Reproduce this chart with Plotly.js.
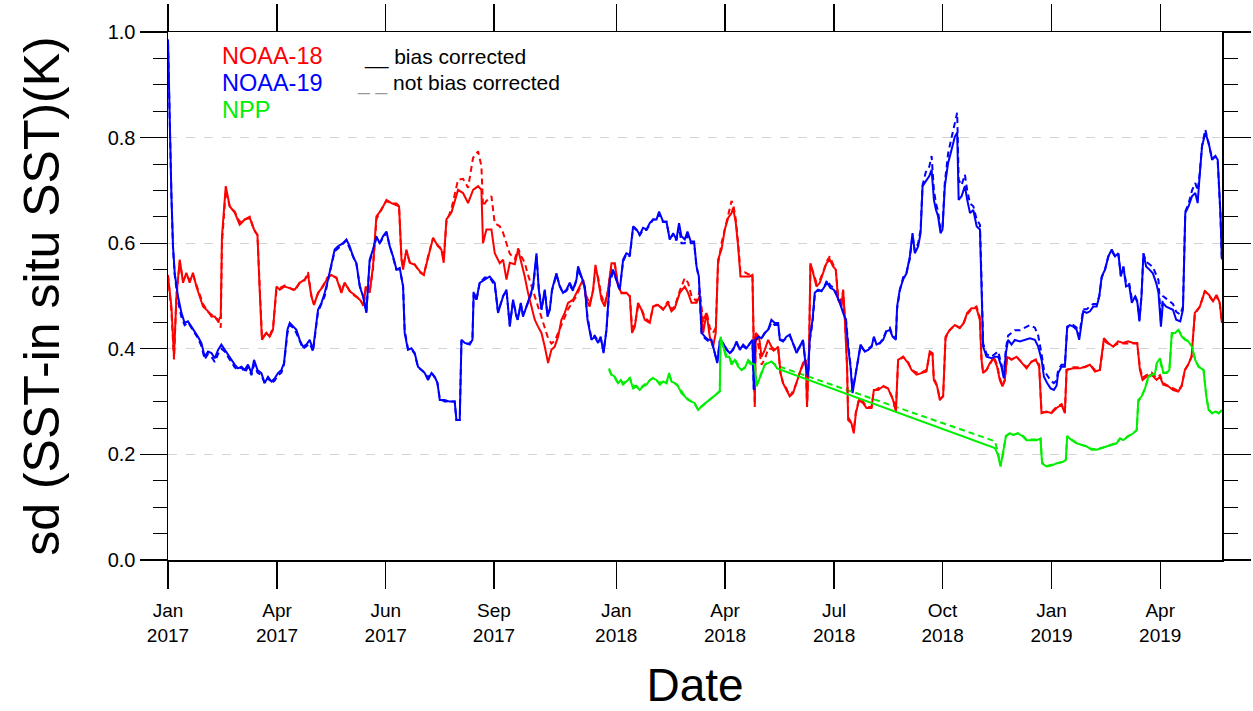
<!DOCTYPE html>
<html>
<head>
<meta charset="utf-8">
<script src="https://cdn.plot.ly/plotly-3.0.1.min.js"></script>
<style>
  html, body { margin: 0; padding: 0; background: #ffffff; }
  #chart { width: 1253px; height: 711px; }
</style>
</head>
<body>
<div id="chart"></div>
<script>
// x positions: days counted from the start of the record (Jan 2017)
const tickDays = [0, 89.1, 177.9, 266.4, 366.3, 455.2, 544.3, 633.0, 722.0, 810.8];
const tickLabels = ["Jan<br>2017", "Apr<br>2017", "Jun<br>2017", "Sep<br>2017", "Jan<br>2018",
                    "Apr<br>2018", "Jul<br>2018", "Oct<br>2018", "Jan<br>2019", "Apr<br>2019"];

// NOAA-18
const days18 = [0,2.8,4.9,6.9,9.6,12.3,15.0,17.7,20.4,23.2,25.9,28.6,32.7,35.5,38.2,40.9,43.1,44.1,47.2,50.4,54.5,58.6,62.7,66.8,70.3,73.1,74.9,76.8,80.4,83.1,85.8,88.6,91.3,95.4,99.5,103.6,107.6,111.7,114.4,117.2,119.3,122.6,126.7,130.3,133.5,137.6,141.7,144.4,148.5,152.6,156.7,159.9,161.6,164.8,167.5,170.3,174.4,178.5,182.6,186.7,188.8,190.8,192.1,194.8,197.5,201.6,205.7,209.0,212.5,216.6,220.7,223.4,225.3,227.5,231.6,234.3,237.0,241.1,245.2,249.3,253.4,256.1,257.4,260.2,264.3,267.0,271.1,273.8,276.6,279.3,283.4,286.1,288.8,291.5,294.2,297.0,299.7,302.4,305.2,307.9,310.6,313.3,316.0,318.8,321.5,324.2,326.9,331.0,333.8,336.5,339.2,341.9,344.6,347.4,349.3,351.5,354.2,356.9,359.6,362.4,365.1,367.8,370.6,374.6,377.4,379.2,381.5,384.1,386.9,389.6,393.7,396.4,400.5,404.6,408.6,411.4,414.1,418.2,422.3,425.0,427.8,431.9,434.6,437.3,440.1,442.7,445.4,447.6,449.5,452.3,455.0,457.7,460.5,461.8,464.0,465.9,467.8,471.3,475.4,477.6,478.7,479.5,480.3,483.0,485.0,487.7,490.4,493.1,495.8,498.6,500.5,502.6,505.4,508.1,510.8,513.6,516.3,518.9,521.2,522.2,523.9,525.0,527.2,529.9,532.6,535.3,538.1,540.8,543.5,545.7,547.6,550.4,551.7,553.1,554.9,555.8,558.5,560.4,562.1,564.7,568.0,570.8,574.9,576.8,580.3,584.4,588.4,592.5,594.8,596.6,600.7,604.8,607.6,611.7,615.8,619.8,622.5,624.7,625.8,628.5,630.7,633.4,635.4,638.8,643.0,647.0,650.3,653.0,656.6,660.7,663.4,664.8,666.1,668.9,671.6,674.8,677.5,679.7,681.9,683.8,685.7,689.3,693.4,697.5,701.6,705.6,709.2,711.9,713.8,717.9,722.0,726.1,730.2,732.9,734.3,739.7,745.2,749.3,753.4,757.5,761.5,764.8,768.3,772.4,776.4,780.5,784.6,788.7,792.0,794.2,796.4,799.6,803.7,807.8,810.6,813.3,817.4,821.4,825.5,828.3,831.0,833.7,836.4,839.1,843.2,847.3,850.8,854.0,856.8,859.5,861.2];
const sd18 = [.537,.48,.385,.50,.569,.525,.544,.525,.544,.518,.499,.48,.471,.461,.461,.452,.461,.613,.708,.67,.658,.635,.645,.648,.626,.616,.512,.417,.43,.423,.436,.518,.512,.518,.515,.512,.525,.531,.54,.499,.483,.506,.518,.534,.54,.534,.506,.525,.509,.502,.493,.483,.518,.506,.556,.651,.663,.682,.676,.673,.67,.569,.55,.588,.563,.559,.547,.54,.575,.61,.594,.588,.563,.645,.658,.682,.701,.695,.676,.701,.708,.701,.60,.626,.626,.581,.562,.569,.531,.563,.56,.588,.563,.537,.506,.48,.455,.442,.43,.404,.373,.398,.404,.423,.455,.468,.487,.493,.506,.518,.531,.493,.48,.512,.559,.531,.493,.48,.512,.562,.562,.518,.506,.506,.499,.43,.442,.487,.474,.455,.449,.48,.483,.474,.487,.471,.477,.506,.518,.506,.487,.487,.50,.43,.468,.423,.404,.43,.569,.588,.626,.648,.657,.667,.638,.594,.537,.537,.537,.54,.417,.29,.43,.423,.385,.398,.417,.404,.398,.404,.354,.335,.322,.31,.316,.335,.354,.373,.379,.29,.404,.562,.543,.518,.525,.543,.562,.569,.556,.55,.493,.48,.512,.455,.366,.265,.259,.24,.278,.303,.297,.288,.288,.322,.322,.329,.325,.303,.281,.379,.385,.373,.36,.351,.354,.357,.395,.392,.341,.329,.303,.31,.423,.436,.445,.439,.449,.468,.477,.477,.455,.379,.354,.36,.373,.382,.366,.341,.329,.341,.385,.379,.385,.373,.363,.376,.379,.366,.278,.281,.278,.288,.294,.278,.36,.363,.363,.366,.37,.357,.36,.42,.411,.404,.414,.411,.414,.411,.411,.36,.341,.347,.351,.341,.347,.332,.329,.322,.319,.329,.36,.37,.385,.468,.48,.509,.502,.49,.502,.487,.449];
const sd18nb = [.54,.47,.38,.50,.565,.53,.54,.53,.54,.52,.50,.485,.47,.465,.46,.455,.44,.60,.70,.67,.66,.64,.645,.65,.625,.615,.52,.42,.43,.425,.44,.51,.515,.52,.515,.51,.525,.53,.545,.50,.485,.505,.52,.535,.54,.535,.51,.525,.51,.50,.495,.48,.515,.51,.55,.645,.665,.68,.675,.675,.67,.57,.555,.585,.565,.56,.545,.54,.575,.61,.595,.59,.57,.64,.665,.69,.72,.722,.705,.762,.774,.746,.67,.68,.689,.638,.632,.62,.60,.58,.57,.59,.575,.563,.54,.52,.50,.48,.46,.44,.42,.41,.415,.43,.445,.46,.475,.49,.50,.515,.53,.50,.485,.51,.55,.535,.50,.485,.51,.555,.56,.52,.505,.505,.50,.44,.445,.48,.475,.46,.45,.48,.485,.475,.49,.475,.48,.51,.534,.525,.50,.49,.51,.45,.47,.44,.43,.44,.56,.60,.625,.65,.68,.675,.645,.60,.545,.545,.54,.54,.42,.295,.43,.40,.37,.38,.40,.40,.395,.40,.355,.335,.325,.31,.32,.335,.355,.37,.375,.29,.40,.56,.545,.525,.53,.545,.565,.575,.56,.55,.50,.49,.51,.46,.37,.27,.26,.245,.28,.305,.30,.29,.29,.32,.325,.33,.325,.305,.285,.375,.385,.375,.36,.355,.355,.36,.39,.39,.345,.33,.305,.31,.42,.435,.445,.44,.45,.465,.475,.48,.46,.38,.355,.36,.37,.385,.37,.345,.33,.34,.385,.38,.385,.375,.365,.375,.38,.37,.28,.28,.28,.29,.295,.28,.36,.365,.365,.365,.37,.36,.36,.415,.41,.405,.41,.41,.41,.41,.41,.365,.345,.35,.355,.345,.35,.335,.33,.325,.32,.33,.36,.37,.385,.465,.48,.51,.50,.49,.50,.485,.45];

// NOAA-19
const days19 = [0,1.4,2.8,4.1,5.5,8.2,11.0,13.6,16.3,19.1,21.8,24.5,27.3,30.0,32.7,35.5,38.2,40.9,43.6,46.3,49.0,51.8,54.5,57.2,60.0,62.7,65.4,68.2,70.3,73.1,76.3,79.0,81.7,84.5,87.2,89.9,92.7,94.8,97.6,99.5,102.2,104.9,107.6,110.3,113.1,115.8,118.5,120.5,122.6,125.4,128.1,130.8,133.5,136.2,138.9,143.0,145.8,148.5,151.2,154.0,156.7,159.4,162.1,164.8,167.5,170.3,173.0,175.7,178.5,181.2,183.9,186.7,189.4,192.1,193.4,196.1,198.9,201.6,204.3,207.1,209.8,212.5,215.3,218.0,220.2,222.1,226.1,230.2,234.3,235.7,238.4,239.8,242.5,246.6,248.8,249.8,252.0,254.7,258.8,262.9,267.0,269.7,273.8,276.6,279.3,282.0,284.7,285.8,288.3,290.1,292.9,295.6,298.3,301.1,303.0,305.2,307.9,310.1,312.0,313.8,317.4,320.1,322.8,325.6,328.3,331.0,333.8,335.1,337.9,340.6,342.8,346.0,348.7,351.5,353.6,355.9,358.3,361.0,363.7,366.5,369.2,371.9,374.6,377.4,380.1,382.8,385.5,388.2,391.0,393.7,396.4,399.2,401.3,404.6,407.3,410.0,412.8,415.5,417.6,419.6,422.3,424.5,427.2,429.9,431.9,433.8,436.0,438.7,441.4,444.1,446.8,448.8,451.0,453.7,456.4,459.1,461.8,464.6,467.3,470.0,472.7,475.4,477.6,478.7,479.8,482.3,485.0,487.7,490.4,493.1,495.8,498.6,500.0,502.6,505.4,508.1,510.8,513.6,516.3,518.9,521.2,523.0,524.4,526.7,528.5,531.2,534.0,536.7,538.6,541.3,544.0,546.8,549.0,551.7,553.9,555.8,557.7,559.4,561.2,564.0,565.9,569.5,572.2,575.0,576.8,579.0,581.7,584.4,587.1,589.9,592.1,594.8,595.8,598.0,600.7,603.5,606.2,608.4,610.3,613.0,615.0,616.6,619.3,622.1,624.0,625.9,627.6,629.3,631.3,632.9,634.8,637.5,640.3,643.0,644.9,646.1,648.5,651.2,653.1,655.4,658.1,660.8,663.5,664.8,666.1,668.9,673.0,675.7,678.4,681.1,683.0,684.7,686.5,689.3,692.0,696.1,700.2,704.3,708.4,711.1,713.9,715.8,718.4,721.2,723.9,726.1,727.4,730.2,732.9,734.8,737.0,739.7,742.5,744.6,746.6,747.9,750.7,753.4,756.1,758.9,761.0,763.0,765.7,768.4,771.2,773.9,776.6,778.6,780.7,782.9,785.4,787.6,790.3,792.2,793.8,795.5,797.1,799.3,802.0,804.8,807.5,809.4,811.4,813.0,815.7,818.4,821.2,823.9,827.2,829.4,831.3,834.0,836.8,839.5,841.4,843.0,845.0,847.7,850.4,853.2,855.9,857.8,860.0,861.2];
const sd19 = [.986,.815,.689,.594,.543,.499,.468,.449,.452,.442,.433,.423,.411,.385,.395,.392,.382,.398,.408,.398,.389,.379,.37,.363,.366,.36,.37,.354,.379,.36,.354,.335,.347,.338,.344,.354,.36,.373,.436,.449,.442,.436,.417,.404,.408,.417,.398,.436,.474,.487,.506,.531,.562,.588,.594,.60,.607,.594,.575,.562,.518,.499,.468,.569,.588,.613,.60,.613,.622,.594,.575,.55,.553,.518,.43,.398,.401,.392,.366,.36,.354,.341,.354,.347,.335,.303,.303,.30,.30,.265,.265,.417,.411,.408,.417,.506,.493,.525,.531,.537,.525,.468,.499,.512,.442,.493,.461,.455,.487,.461,.48,.499,.518,.581,.512,.474,.512,.461,.474,.512,.543,.518,.506,.512,.525,.512,.531,.556,.537,.518,.455,.417,.423,.411,.423,.392,.436,.531,.55,.531,.512,.569,.581,.578,.632,.626,.616,.629,.626,.638,.645,.645,.66,.641,.641,.607,.619,.607,.638,.613,.607,.622,.603,.603,.556,.537,.43,.423,.417,.417,.392,.373,.417,.411,.398,.392,.398,.414,.398,.408,.401,.411,.417,.322,.417,.423,.42,.43,.436,.455,.449,.449,.417,.414,.423,.427,.411,.392,.404,.417,.366,.347,.417,.455,.506,.512,.509,.518,.525,.515,.512,.499,.487,.468,.455,.404,.366,.316,.341,.379,.408,.395,.398,.404,.423,.408,.411,.417,.433,.436,.423,.417,.48,.512,.531,.543,.575,.619,.581,.594,.619,.708,.717,.727,.739,.682,.663,.651,.619,.626,.708,.752,.777,.802,.809,.682,.689,.708,.682,.657,.663,.632,.626,.525,.404,.385,.382,.385,.385,.366,.344,.392,.417,.408,.417,.414,.417,.42,.417,.404,.379,.347,.335,.325,.322,.33,.354,.366,.366,.442,.445,.442,.436,.417,.449,.471,.468,.471,.48,.48,.499,.537,.55,.575,.588,.575,.581,.537,.556,.518,.521,.487,.499,.487,.452,.499,.581,.556,.55,.543,.525,.506,.442,.487,.48,.477,.474,.455,.452,.474,.657,.67,.689,.695,.676,.727,.784,.809,.79,.758,.765,.758,.657,.569];
const sd19nb = [.98,.81,.69,.59,.54,.49,.46,.445,.45,.44,.43,.42,.405,.38,.39,.385,.375,.39,.40,.395,.385,.375,.365,.36,.365,.355,.365,.35,.37,.355,.35,.335,.345,.335,.34,.35,.355,.37,.43,.445,.44,.43,.415,.40,.405,.41,.395,.43,.47,.485,.50,.53,.56,.585,.59,.60,.605,.59,.575,.56,.52,.50,.47,.565,.585,.61,.60,.61,.62,.595,.575,.55,.55,.52,.435,.40,.40,.39,.365,.36,.355,.345,.355,.345,.335,.305,.30,.30,.30,.265,.265,.415,.41,.41,.42,.51,.49,.525,.535,.535,.52,.47,.50,.51,.445,.49,.465,.455,.485,.465,.48,.495,.515,.575,.515,.475,.51,.465,.475,.51,.54,.52,.505,.51,.52,.51,.53,.55,.535,.515,.46,.42,.425,.415,.42,.395,.435,.525,.545,.53,.515,.565,.58,.575,.63,.625,.615,.625,.625,.635,.645,.645,.655,.64,.64,.61,.615,.605,.63,.60,.60,.615,.60,.60,.555,.535,.43,.42,.415,.415,.39,.375,.415,.41,.40,.39,.40,.41,.40,.405,.40,.41,.415,.325,.415,.42,.42,.43,.435,.45,.445,.445,.42,.415,.42,.425,.41,.395,.405,.415,.37,.35,.415,.45,.50,.51,.51,.52,.53,.52,.515,.505,.49,.475,.46,.41,.37,.32,.345,.38,.405,.395,.40,.405,.42,.41,.41,.42,.435,.44,.425,.42,.475,.51,.535,.545,.57,.615,.585,.60,.625,.71,.735,.745,.765,.70,.675,.66,.625,.63,.715,.77,.80,.83,.847,.72,.71,.73,.70,.675,.67,.645,.635,.53,.41,.39,.385,.39,.395,.37,.35,.40,.425,.43,.435,.435,.44,.445,.44,.425,.39,.36,.35,.34,.335,.34,.36,.37,.37,.44,.445,.445,.44,.425,.455,.475,.475,.48,.485,.485,.50,.535,.55,.575,.585,.575,.58,.54,.555,.525,.525,.495,.50,.49,.455,.50,.58,.565,.56,.555,.54,.53,.45,.50,.495,.49,.485,.47,.465,.48,.66,.675,.70,.714,.70,.73,.785,.815,.79,.76,.765,.755,.655,.565];

// NPP
const daysNPP = [360.4,362.4,365.1,367.8,370.0,371.9,374.6,377.4,380.1,382.8,385.5,388.2,391.0,393.7,396.4,399.2,401.9,404.6,407.3,409.5,411.4,414.1,416.8,419.6,422.3,425.0,427.8,430.5,433.2,435.9,450.9,451.5,453.7,455.9,458.6,460.5,463.2,465.9,468.7,471.3,474.1,476.8,479.5,480.9,483.0,485.0,487.7,490.4,493.1,495.8,497.7,675.7,678.1,680.3,682.4,684.7,687.9,690.6,694.5,698.6,701.6,705.6,709.7,713.0,714.3,717.9,722.0,726.1,731.5,733.7,734.8,738.5,742.5,746.6,750.7,754.8,758.9,763.0,767.0,771.1,775.2,777.9,780.7,784.7,788.8,791.6,792.9,795.7,798.4,801.1,803.9,806.6,808.0,810.7,813.4,816.2,818.3,820.3,823.0,825.7,828.5,831.2,833.9,836.7,839.4,842.1,846.2,848.5,850.4,853.2,855.9,858.6,861.2];
const sdNPP = [.363,.351,.347,.335,.341,.332,.338,.344,.325,.329,.322,.329,.332,.341,.344,.341,.332,.338,.335,.354,.338,.335,.329,.316,.31,.303,.30,.297,.284,.291,.319,.423,.404,.385,.385,.37,.379,.366,.36,.363,.379,.373,.37,.329,.341,.354,.37,.373,.376,.37,.363,.212,.20,.177,.202,.234,.24,.237,.24,.234,.227,.227,.227,.23,.183,.177,.179,.183,.186,.19,.234,.227,.221,.218,.215,.209,.209,.212,.215,.218,.221,.23,.227,.234,.24,.246,.303,.31,.325,.347,.351,.354,.373,.382,.354,.354,.36,.43,.43,.436,.423,.417,.414,.404,.379,.366,.36,.31,.284,.278,.281,.278,.284];
const sdNPPnb = [.36,.35,.345,.335,.34,.335,.34,.345,.33,.33,.325,.33,.335,.34,.345,.34,.335,.34,.335,.35,.34,.335,.33,.32,.31,.305,.30,.295,.285,.29,.32,.42,.405,.39,.385,.375,.38,.37,.36,.365,.375,.37,.37,.33,.345,.355,.37,.375,.375,.37,.368,.225,.205,.18,.20,.235,.24,.237,.24,.235,.228,.228,.228,.23,.185,.178,.18,.183,.186,.19,.235,.228,.222,.218,.215,.21,.21,.212,.215,.218,.222,.23,.228,.235,.24,.246,.30,.31,.325,.345,.35,.352,.37,.375,.355,.355,.36,.428,.43,.435,.425,.418,.415,.405,.38,.367,.36,.31,.285,.278,.282,.278,.284];

const RED = '#ff0000', BLUE = '#0000ff', GREEN = '#00ee00';
function line(x, y, color, dashed) {
  return {
    x: x, y: y, type: 'scatter', mode: 'lines', showlegend: false, hoverinfo: 'skip',
    line: { color: color, width: 2, dash: dashed ? '6px,4px' : 'solid' }
  };
}
const traces = [
  line(days18, sd18nb, RED, true),
  line(days19, sd19nb, BLUE, true),
  line(daysNPP, sdNPPnb, GREEN, true),
  line(days18, sd18, RED, false),
  line(days19, sd19, BLUE, false),
  line(daysNPP, sdNPP, GREEN, false)
];

const FONT = 'Liberation Sans, Arial, Helvetica, sans-serif';
function px2paperX(p) { return (p - 168.3) / 1053.7; }
function px2paperY(p) { return (560 - p) / 527.5; }

const layout = {
  width: 1253, height: 711,
  margin: { l: 168, r: 31, t: 32, b: 151 },
  paper_bgcolor: '#ffffff', plot_bgcolor: '#ffffff',
  font: { family: FONT, color: '#000000' },
  xaxis: {
    range: [0, 861.3],
    tickmode: 'array', tickvals: tickDays, ticktext: tickLabels,
    ticks: 'outside', ticklen: 27, tickwidth: 1.2, tickcolor: '#000',
    showline: true, linecolor: '#000', linewidth: 1.5, mirror: 'ticks',
    showgrid: false, zeroline: false,
    tickfont: { size: 19, family: FONT, color: '#000' },
    ticklabelstandoff: 6,
    title: { text: 'Date', font: { size: 46, family: FONT, color: '#000' }, standoff: 32 }
  },
  yaxis: {
    range: [0, 1], tick0: 0, dtick: 0.2, tickformat: '.1f',
    ticks: 'outside', ticklen: 27, tickwidth: 1.2, tickcolor: '#000',
    showline: true, linecolor: '#000', linewidth: 1.5, mirror: 'ticks',
    showgrid: true, gridcolor: '#d4d4d4', griddash: 'dash', gridwidth: 1,
    zeroline: false,
    minor: { tick0: 0, dtick: 0.05, ticks: 'outside', ticklen: 14, tickwidth: 1, tickcolor: '#000', showgrid: false },
    tickfont: { size: 20, family: FONT, color: '#000' },
    title: { text: 'sd (SST-in situ SST)(K)', font: { size: 50, family: FONT, color: '#000' }, standoff: 32 }
  },
  annotations: [
    { xref: 'paper', yref: 'paper', x: px2paperX(220), y: px2paperY(56), xanchor: 'left', yanchor: 'middle',
      text: 'NOAA-18', showarrow: false, font: { size: 23.5, color: RED, family: FONT } },
    { xref: 'paper', yref: 'paper', x: px2paperX(220), y: px2paperY(83), xanchor: 'left', yanchor: 'middle',
      text: 'NOAA-19', showarrow: false, font: { size: 23.5, color: BLUE, family: FONT } },
    { xref: 'paper', yref: 'paper', x: px2paperX(220), y: px2paperY(110), xanchor: 'left', yanchor: 'middle',
      text: 'NPP', showarrow: false, font: { size: 23.5, color: GREEN, family: FONT } },
    { xref: 'paper', yref: 'paper', x: px2paperX(362), y: px2paperY(57), xanchor: 'left', yanchor: 'middle',
      text: '__ bias corrected', showarrow: false, font: { size: 21, color: '#000', family: FONT } },
    { xref: 'paper', yref: 'paper', x: px2paperX(355), y: px2paperY(83), xanchor: 'left', yanchor: 'middle',
      text: '<span style="color:#999999">_ _</span> not bias corrected', showarrow: false,
      font: { size: 21, color: '#000', family: FONT } }
  ]
};

Plotly.newPlot('chart', traces, layout, { staticPlot: true, displayModeBar: false });
</script>
</body>
</html>
